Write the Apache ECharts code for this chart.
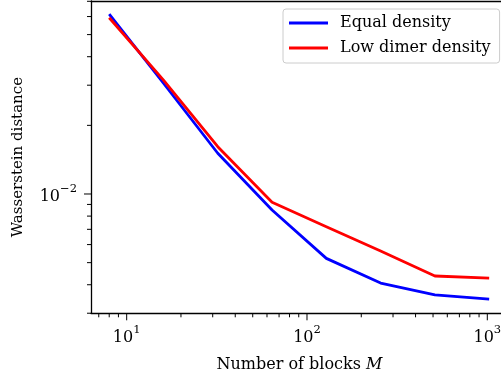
<!DOCTYPE html>
<html>
<head>
<meta charset="utf-8">
<script src="https://cdn.jsdelivr.net/npm/echarts@6/dist/echarts.min.js"></script>
<style>
  html, body { margin: 0; padding: 0; background: #fff; }
  #chart { width: 501px; height: 376px; }
</style>
</head>
<body>
<div id="chart"></div>
<script>
// Wasserstein distance versus number of blocks M (log-log)
const blockCounts = [8, 16, 32, 64, 128, 256, 512, 1024];
const equalDensity = [0.0615, 0.0306, 0.01509, 0.00851, 0.00522, 0.00407, 0.00361, 0.00346];
const lowDimerDensity = [0.0593, 0.0316, 0.01613, 0.00920, 0.00719, 0.00562, 0.00437, 0.00428];
const seriesNames = ['Equal density', 'Low dimer density'];
const seriesColors = ['#0000ff', '#ff0000'];

// Axis ranges and tick positions
const xRange = [6.34, 1191];
const yRange = [0.002998, 0.0702];
const xMajorTicks = [10, 100, 1000];
const xMinorTicks = [7, 8, 9, 20, 30, 40, 50, 60, 70, 80, 90, 200, 300, 400, 500, 600, 700, 800, 900];
const yMajorTicks = [0.01];
const yMinorTicks = [0.003, 0.004, 0.005, 0.006, 0.007, 0.008, 0.009, 0.02, 0.03, 0.04, 0.05, 0.06, 0.07];

const FONT = 'DejaVu Serif';
const MAJOR_LEN = 7;
const MINOR_LEN = 4;
const LINE_WIDTH = 2.8;
const SPINE = { color: '#000', width: 1.3 };

function powerLabel(value) {
  const e = Math.round(Math.log10(value));
  return '{b|10}{s|' + (e < 0 ? '\u2212' : '') + Math.abs(e) + '}';
}

const powerRich = {
  b: { fontFamily: FONT, fontSize: 16, lineHeight: 22, verticalAlign: 'bottom', color: '#000' },
  s: { fontFamily: FONT, fontSize: 11.5, lineHeight: 12, verticalAlign: 'top', color: '#000' }
};

// Tick marks drawn through the axis scales
function tickSeries(values, dim, len) {
  return {
    type: 'custom',
    silent: true,
    clip: false,
    z: 5,
    data: values.map(v => dim === 'x' ? [v, yRange[0]] : [xRange[0], v]),
    renderItem(params, api) {
      const p = api.coord([api.value(0), api.value(1)]);
      const cs = params.coordSys;
      const shape = dim === 'x'
        ? { x1: p[0], y1: cs.y + cs.height, x2: p[0], y2: cs.y + cs.height + len }
        : { x1: cs.x, y1: p[1], x2: cs.x - len, y2: p[1] };
      return { type: 'line', shape: shape, style: { stroke: '#000', lineWidth: 1 } };
    }
  };
}

function lineSeries(name, values, color) {
  return {
    name: name,
    type: 'line',
    data: blockCounts.map((m, i) => [m, values[i]]),
    symbol: 'none',
    lineStyle: { color: color, width: LINE_WIDTH },
    itemStyle: { color: color },
    z: 3
  };
}

const chart = echarts.init(document.getElementById('chart'), null, { renderer: 'canvas' });
chart.setOption({
  animation: false,
  backgroundColor: '#fff',
  grid: { left: 91, top: 1, right: 0, bottom: 62.7, containLabel: false, outerBoundsMode: 'none' },
  legend: {
    data: seriesNames,
    orient: 'vertical',
    left: 283, top: 9,
    icon: 'rect',
    itemWidth: 39, itemHeight: 3, itemGap: 7,
    padding: [5, 9, 6, 6],
    backgroundColor: '#fff',
    borderColor: '#cccccc', borderWidth: 1, borderRadius: 3,
    textStyle: { fontFamily: FONT, fontSize: 16, lineHeight: 18, color: '#000', padding: [0, 0, 0, 7] }
  },
  xAxis: [{
    type: 'log', logBase: 10,
    min: xRange[0], max: xRange[1],
    name: '{n|Number of blocks }{m|M}',
    nameLocation: 'middle', nameGap: 44,
    nameTextStyle: {
      padding: [0, 0, 0, 7],
      rich: {
        n: { fontFamily: FONT, fontSize: 16, color: '#000' },
        m: { fontFamily: FONT, fontSize: 16, fontStyle: 'italic', color: '#000' }
      }
    },
    axisLine: { show: true, lineStyle: SPINE },
    axisTick: { show: false },
    splitLine: { show: false },
    axisLabel: {
      margin: 11, showMinLabel: false, showMaxLabel: false,
      formatter: powerLabel, rich: powerRich
    }
  }, {
    // top frame line
    type: 'log', logBase: 10, position: 'top',
    min: xRange[0], max: xRange[1],
    axisLine: { show: true, lineStyle: SPINE },
    axisTick: { show: false },
    axisLabel: { show: false },
    splitLine: { show: false }
  }],
  yAxis: {
    type: 'log', logBase: 10,
    min: yRange[0], max: yRange[1],
    name: 'Wasserstein distance',
    nameLocation: 'middle', nameGap: 65,
    nameTextStyle: { fontFamily: FONT, fontSize: 15, color: '#000' },
    axisLine: { show: true, lineStyle: SPINE },
    axisTick: { show: false },
    splitLine: { show: false },
    axisLabel: {
      margin: 14, showMinLabel: false, showMaxLabel: false,
      formatter: powerLabel, rich: powerRich
    }
  },
  series: [
    lineSeries(seriesNames[0], equalDensity, seriesColors[0]),
    lineSeries(seriesNames[1], lowDimerDensity, seriesColors[1]),
    tickSeries(xMajorTicks, 'x', MAJOR_LEN),
    tickSeries(xMinorTicks, 'x', MINOR_LEN),
    tickSeries(yMajorTicks, 'y', MAJOR_LEN),
    tickSeries(yMinorTicks, 'y', MINOR_LEN)
  ]
});
</script>
</body>
</html>
